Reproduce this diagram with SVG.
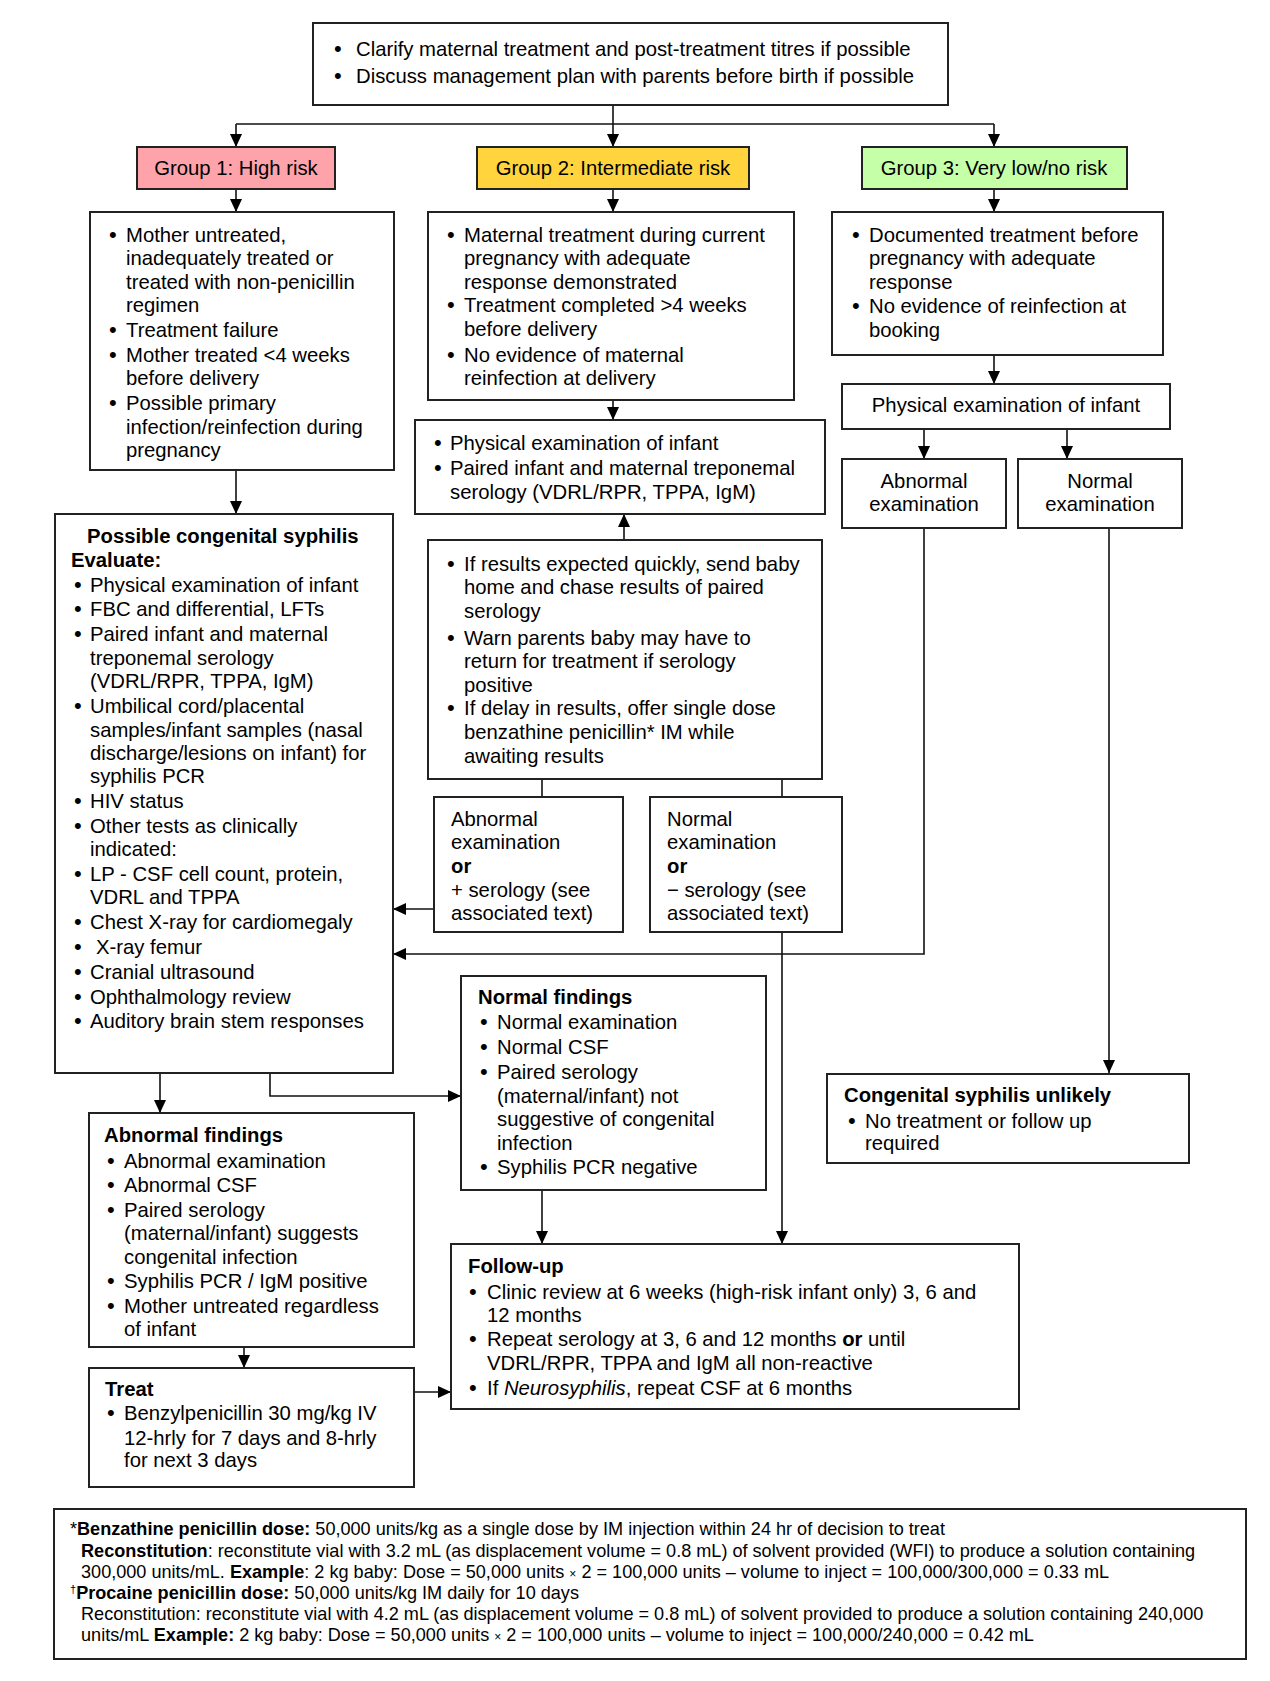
<svg xmlns="http://www.w3.org/2000/svg" width="1270" height="1681" viewBox="0 0 1270 1681">
<defs>
<style>
text{font-family:"Liberation Sans",Arial,Helvetica,sans-serif;font-size:20.3px;fill:#000}
.b{font-weight:bold}
.c{text-anchor:middle}
.fn{font-size:18.1px}
.bl{font-size:22px}
.box{fill:#fff;stroke:#222;stroke-width:2}
.con{fill:none;stroke:#111;stroke-width:1.6}
</style>
<marker id="ah" markerUnits="userSpaceOnUse" markerWidth="13" markerHeight="12" refX="13" refY="6" orient="auto">
<path d="M0,0 L13,6 L0,12 z" fill="#000"/>
</marker>
</defs>
<rect width="1270" height="1681" fill="#fff"/>

<g id="connectors">
<path class="con" d="M613,105 V147" marker-end="url(#ah)"/>
<path class="con" d="M236,124 H994"/>
<path class="con" d="M236,124 V147" marker-end="url(#ah)"/>
<path class="con" d="M994,124 V147" marker-end="url(#ah)"/>
<path class="con" d="M236,189 V212" marker-end="url(#ah)"/>
<path class="con" d="M613,189 V212" marker-end="url(#ah)"/>
<path class="con" d="M994,189 V212" marker-end="url(#ah)"/>
<path class="con" d="M236,470 V514" marker-end="url(#ah)"/>
<path class="con" d="M613,400 V420" marker-end="url(#ah)"/>
<path class="con" d="M994,355 V384" marker-end="url(#ah)"/>
<path class="con" d="M924,429 V459" marker-end="url(#ah)"/>
<path class="con" d="M1067,429 V459" marker-end="url(#ah)"/>
<path class="con" d="M624,540 V514" marker-end="url(#ah)"/>
<path class="con" d="M542,779 V797"/>
<path class="con" d="M782,779 V797"/>
<path class="con" d="M434,909 H393" marker-end="url(#ah)"/>
<path class="con" d="M924,528 V954 H393" marker-end="url(#ah)"/>
<path class="con" d="M782,932 V1244" marker-end="url(#ah)"/>
<path class="con" d="M1109,528 V1073" marker-end="url(#ah)"/>
<path class="con" d="M160,1073 V1113" marker-end="url(#ah)"/>
<path class="con" d="M270,1073 V1096 H461" marker-end="url(#ah)"/>
<path class="con" d="M542,1190 V1244" marker-end="url(#ah)"/>
<path class="con" d="M244,1347 V1368" marker-end="url(#ah)"/>
<path class="con" d="M414,1392 H451" marker-end="url(#ah)"/>
</g>

<g id="top">
<rect class="box" x="313" y="23" width="635" height="82"/>
<text class="bl" x="334" y="56">•</text><text x="356" y="56">Clarify maternal treatment and post-treatment titres if possible</text>
<text class="bl" x="334" y="83">•</text><text x="356" y="83">Discuss management plan with parents before birth if possible</text>
</g>

<g id="group1">
<rect x="137" y="147" width="198" height="42" fill="#FFA3AB" stroke="#222" stroke-width="2"/>
<text class="c" x="236" y="175">Group 1: High risk</text>
</g>
<g id="group2">
<rect x="477" y="147" width="272" height="42" fill="#FFD43D" stroke="#222" stroke-width="2"/>
<text class="c" x="613" y="175">Group 2: Intermediate risk</text>
</g>
<g id="group3">
<rect x="862" y="147" width="265" height="42" fill="#C5FFA8" stroke="#222" stroke-width="2"/>
<text class="c" x="994" y="175">Group 3: Very low/no risk</text>
</g>

<g id="g1list">
<rect class="box" x="90" y="212" width="304" height="258"/>
<text class="bl" x="109" y="242">•</text><text x="126" y="242">Mother untreated,</text>
<text x="126" y="265">inadequately treated or</text>
<text x="126" y="289">treated with non-penicillin</text>
<text x="126" y="312">regimen</text>
<text class="bl" x="109" y="337">•</text><text x="126" y="337">Treatment failure</text>
<text class="bl" x="109" y="362">•</text><text x="126" y="362">Mother treated &lt;4 weeks</text>
<text x="126" y="385">before delivery</text>
<text class="bl" x="109" y="410">•</text><text x="126" y="410">Possible primary</text>
<text x="126" y="434">infection/reinfection during</text>
<text x="126" y="457">pregnancy</text>
</g>

<g id="g2list">
<rect class="box" x="428" y="212" width="366" height="188"/>
<text class="bl" x="447" y="242">•</text><text x="464" y="242">Maternal treatment during current</text>
<text x="464" y="265">pregnancy with adequate</text>
<text x="464" y="289">response demonstrated</text>
<text class="bl" x="447" y="312">•</text><text x="464" y="312">Treatment completed &gt;4 weeks</text>
<text x="464" y="336">before delivery</text>
<text class="bl" x="447" y="362">•</text><text x="464" y="362">No evidence of maternal</text>
<text x="464" y="385">reinfection at delivery</text>
</g>

<g id="g3list">
<rect class="box" x="832" y="212" width="331" height="143"/>
<text class="bl" x="852" y="242">•</text><text x="869" y="242">Documented treatment before</text>
<text x="869" y="265">pregnancy with adequate</text>
<text x="869" y="289">response</text>
<text class="bl" x="852" y="313">•</text><text x="869" y="313">No evidence of reinfection at</text>
<text x="869" y="337">booking</text>
</g>

<g id="g3phys">
<rect class="box" x="842" y="384" width="328" height="45"/>
<text class="c" x="1006" y="412">Physical examination of infant</text>
</g>
<g id="g3abn">
<rect class="box" x="842" y="459" width="164" height="69"/>
<text class="c" x="924" y="488">Abnormal</text>
<text class="c" x="924" y="511">examination</text>
</g>
<g id="g3norm">
<rect class="box" x="1018" y="459" width="164" height="69"/>
<text class="c" x="1100" y="488">Normal</text>
<text class="c" x="1100" y="511">examination</text>
</g>

<g id="g2phys">
<rect class="box" x="415" y="420" width="410" height="94"/>
<text class="bl" x="434" y="450">•</text><text x="450" y="450">Physical examination of infant</text>
<text class="bl" x="434" y="475">•</text><text x="450" y="475">Paired infant and maternal treponemal</text>
<text x="450" y="499">serology (VDRL/RPR, TPPA, IgM)</text>
</g>

<g id="results">
<rect class="box" x="428" y="540" width="394" height="239"/>
<text class="bl" x="447" y="571">•</text><text x="464" y="571">If results expected quickly, send baby</text>
<text x="464" y="594">home and chase results of paired</text>
<text x="464" y="618">serology</text>
<text class="bl" x="447" y="645">•</text><text x="464" y="645">Warn parents baby may have to</text>
<text x="464" y="668">return for treatment if serology</text>
<text x="464" y="692">positive</text>
<text class="bl" x="447" y="715">•</text><text x="464" y="715">If delay in results, offer single dose</text>
<text x="464" y="739">benzathine penicillin* IM while</text>
<text x="464" y="763">awaiting results</text>
</g>

<g id="abnplus">
<rect class="box" x="434" y="797" width="189" height="135"/>
<text x="451" y="826">Abnormal</text>
<text x="451" y="849">examination</text>
<text class="b" x="451" y="873">or</text>
<text x="451" y="897">+ serology (see</text>
<text x="451" y="920">associated text)</text>
</g>

<g id="normminus">
<rect class="box" x="650" y="797" width="192" height="135"/>
<text x="667" y="826">Normal</text>
<text x="667" y="849">examination</text>
<text class="b" x="667" y="873">or</text>
<text x="667" y="897">− serology (see</text>
<text x="667" y="920">associated text)</text>
</g>

<g id="possible">
<rect class="box" x="55" y="514" width="338" height="559"/>
<text class="b" x="87" y="543">Possible congenital syphilis</text>
<text class="b" x="71" y="567">Evaluate:</text>
<text class="bl" x="74" y="592">•</text><text x="90" y="592">Physical examination of infant</text>
<text class="bl" x="74" y="616">•</text><text x="90" y="616">FBC and differential, LFTs</text>
<text class="bl" x="74" y="641">•</text><text x="90" y="641">Paired infant and maternal</text>
<text x="90" y="665">treponemal serology</text>
<text x="90" y="688">(VDRL/RPR, TPPA, IgM)</text>
<text class="bl" x="74" y="713">•</text><text x="90" y="713">Umbilical cord/placental</text>
<text x="90" y="737">samples/infant samples (nasal</text>
<text x="90" y="760">discharge/lesions on infant) for</text>
<text x="90" y="783">syphilis PCR</text>
<text class="bl" x="74" y="808">•</text><text x="90" y="808">HIV status</text>
<text class="bl" x="74" y="833">•</text><text x="90" y="833">Other tests as clinically</text>
<text x="90" y="856">indicated:</text>
<text class="bl" x="74" y="881">•</text><text x="90" y="881">LP - CSF cell count, protein,</text>
<text x="90" y="904">VDRL and TPPA</text>
<text class="bl" x="74" y="929">•</text><text x="90" y="929">Chest X-ray for cardiomegaly</text>
<text class="bl" x="74" y="954">•</text><text x="96" y="954">X-ray femur</text>
<text class="bl" x="74" y="979">•</text><text x="90" y="979">Cranial ultrasound</text>
<text class="bl" x="74" y="1004">•</text><text x="90" y="1004">Ophthalmology review</text>
<text class="bl" x="74" y="1028">•</text><text x="90" y="1028">Auditory brain stem responses</text>
</g>

<g id="normalfindings">
<rect class="box" x="461" y="976" width="305" height="214"/>
<text class="b" x="478" y="1004">Normal findings</text>
<text class="bl" x="480" y="1029">•</text><text x="497" y="1029">Normal examination</text>
<text class="bl" x="480" y="1054">•</text><text x="497" y="1054">Normal CSF</text>
<text class="bl" x="480" y="1079">•</text><text x="497" y="1079">Paired serology</text>
<text x="497" y="1103">(maternal/infant) not</text>
<text x="497" y="1126">suggestive of congenital</text>
<text x="497" y="1150">infection</text>
<text class="bl" x="480" y="1174">•</text><text x="497" y="1174">Syphilis PCR negative</text>
</g>

<g id="unlikely">
<rect class="box" x="827" y="1074" width="362" height="89"/>
<text class="b" x="844" y="1102">Congenital syphilis unlikely</text>
<text class="bl" x="848" y="1128">•</text><text x="865" y="1128">No treatment or follow up</text>
<text x="865" y="1150">required</text>
</g>

<g id="abnormalfindings">
<rect class="box" x="89" y="1113" width="325" height="234"/>
<text class="b" x="104" y="1142">Abnormal findings</text>
<text class="bl" x="107" y="1168">•</text><text x="124" y="1168">Abnormal examination</text>
<text class="bl" x="107" y="1192">•</text><text x="124" y="1192">Abnormal CSF</text>
<text class="bl" x="107" y="1217">•</text><text x="124" y="1217">Paired serology</text>
<text x="124" y="1240">(maternal/infant) suggests</text>
<text x="124" y="1264">congenital infection</text>
<text class="bl" x="107" y="1288">•</text><text x="124" y="1288">Syphilis PCR / IgM positive</text>
<text class="bl" x="107" y="1313">•</text><text x="124" y="1313">Mother untreated regardless</text>
<text x="124" y="1336">of infant</text>
</g>

<g id="treat">
<rect class="box" x="89" y="1368" width="325" height="119"/>
<text class="b" x="105" y="1396">Treat</text>
<text class="bl" x="107" y="1420">•</text><text x="124" y="1420">Benzylpenicillin 30 mg/kg IV</text>
<text x="124" y="1445">12-hrly for 7 days and 8-hrly</text>
<text x="124" y="1467">for next 3 days</text>
</g>

<g id="followup">
<rect class="box" x="451" y="1244" width="568" height="165"/>
<text class="b" x="468" y="1273">Follow-up</text>
<text class="bl" x="469" y="1299">•</text><text x="487" y="1299">Clinic review at 6 weeks (high-risk infant only) 3, 6 and</text>
<text x="487" y="1322">12 months</text>
<text class="bl" x="469" y="1346">•</text><text x="487" y="1346">Repeat serology at 3, 6 and 12 months <tspan class="b">or</tspan> until</text>
<text x="487" y="1370">VDRL/RPR, TPPA and IgM all non-reactive</text>
<text class="bl" x="469" y="1395">•</text><text x="487" y="1395">If <tspan font-style="italic">Neurosyphilis</tspan>, repeat CSF at 6 months</text>
</g>

<g id="footnote">
<rect class="box" x="54" y="1509" width="1192" height="150"/>
<text class="fn" x="70" y="1535">*<tspan class="b">Benzathine penicillin dose:</tspan> 50,000 units/kg as a single dose by IM injection within 24 hr of decision to treat</text>
<text class="fn" x="81" y="1557"><tspan class="b">Reconstitution</tspan>: reconstitute vial with 3.2 mL (as displacement volume = 0.8 mL) of solvent provided (WFI) to produce a solution containing</text>
<text class="fn" x="81" y="1578">300,000 units/mL. <tspan class="b">Example</tspan>: 2 kg baby: Dose = 50,000 units <tspan font-size="12">×</tspan> 2 = 100,000 units – volume to inject = 100,000/300,000 = 0.33 mL</text>
<text class="fn" x="70" y="1599"><tspan font-size="11" dy="-6">†</tspan><tspan class="b" dy="6">Procaine penicillin dose:</tspan> 50,000 units/kg IM daily for 10 days</text>
<text class="fn" x="81" y="1620">Reconstitution: reconstitute vial with 4.2 mL (as displacement volume = 0.8 mL) of solvent provided to produce a solution containing 240,000</text>
<text class="fn" x="81" y="1641">units/mL <tspan class="b">Example:</tspan> 2 kg baby: Dose = 50,000 units <tspan font-size="12">×</tspan> 2 = 100,000 units – volume to inject = 100,000/240,000 = 0.42 mL</text>
</g>
</svg>
